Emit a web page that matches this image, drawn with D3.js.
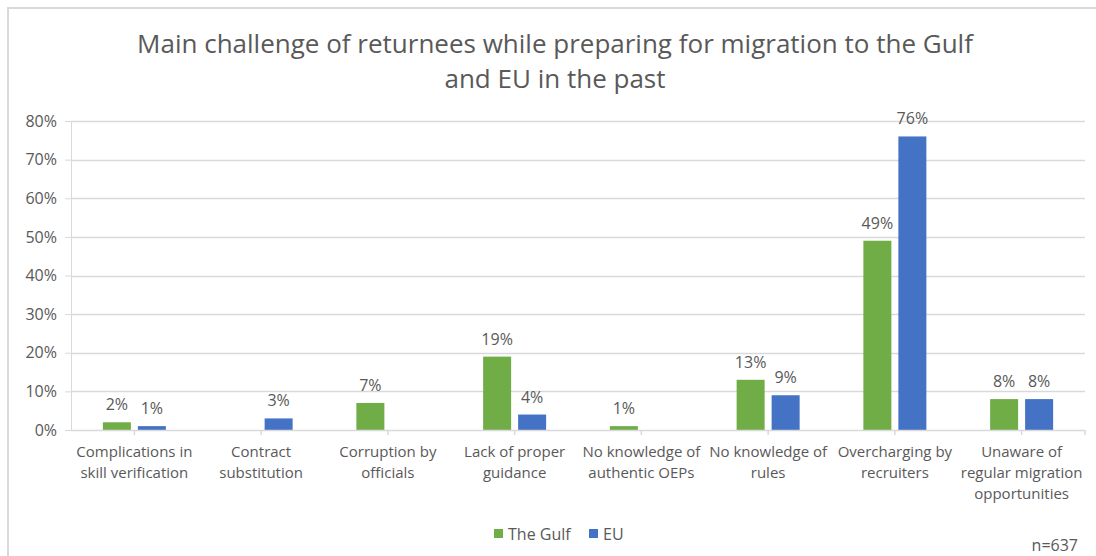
<!DOCTYPE html>
<html>
<head>
<meta charset="utf-8">
<script src="https://cdn.jsdelivr.net/npm/d3@7/dist/d3.min.js"></script>
<style>
  html, body { margin: 0; padding: 0; background: #fff; }
  svg { display: block; }
  text { font-family: "Open Sans", "Noto Sans", sans-serif; fill: #595959; }
</style>
</head>
<body>
<svg id="chart" width="1096" height="556"></svg>
<script>
// Survey categories (wrapped label lines) and shares per destination
const categories = [
  "Complications in skill verification",
  "Contract substitution",
  "Corruption by officials",
  "Lack of proper guidance",
  "No knowledge of authentic OEPs",
  "No knowledge of rules",
  "Overcharging by recruiters",
  "Unaware of regular migration opportunities"
];
const categoryLines = [
  ["Complications in", "skill verification"],
  ["Contract", "substitution"],
  ["Corruption by", "officials"],
  ["Lack of proper", "guidance"],
  ["No knowledge of", "authentic OEPs"],
  ["No knowledge of", "rules"],
  ["Overcharging by", "recruiters"],
  ["Unaware of", "regular migration", "opportunities"]
];
const gulfValues = [2, null, 7, 19, 1, 13, 49, 8];
const euValues   = [1, 3, null, 4, null, 9, 76, 8];
const seriesNames = ["The Gulf", "EU"];
const seriesColors = ["#70AD47", "#4472C4"];
const yTicks = [0, 10, 20, 30, 40, 50, 60, 70, 80];
const titleLines = [
  "Main challenge of returnees while preparing for migration to the Gulf",
  "and EU in the past"
];
const sampleNote = "n=637";

const svg = d3.select("#chart");
const W = 1096, H = 556;

// chart frame (left and top edges visible)
svg.append("line").attr("x1", 8).attr("x2", 8).attr("y1", 7).attr("y2", H)
  .attr("stroke", "#d9d9d9").attr("stroke-width", 2);
svg.append("line").attr("x1", 7).attr("x2", W).attr("y1", 8).attr("y2", 8)
  .attr("stroke", "#d9d9d9").attr("stroke-width", 2);

const plot = { left: 71, right: 1085, top: 121, bottom: 430 };

const x = d3.scaleBand().domain(categories).range([plot.left, plot.right]);
const y = d3.scaleLinear().domain([0, 80]).range([plot.bottom, plot.top]);

// title
svg.append("g").selectAll("text").data(titleLines).join("text")
  .attr("x", 555).attr("y", (d, i) => 53 + i * 35)
  .attr("text-anchor", "middle")
  .style("font-size", "26px")
  .text(d => d);

// gridlines + y axis
const yAxis = d3.axisLeft(y).tickValues(yTicks).tickFormat(d => d + "%")
  .tickSize(6).tickPadding(8);
const gy = svg.append("g").attr("transform", `translate(${plot.left},0)`).call(yAxis);
gy.select(".domain").attr("stroke", "#d9d9d9");
gy.selectAll(".tick line").attr("stroke", "#d9d9d9");
gy.selectAll(".tick text").style("font-size", "16px").attr("fill", "#595959");

svg.append("g").selectAll("line").data(yTicks.filter(d => d > 0)).join("line")
  .attr("x1", plot.left).attr("x2", plot.right)
  .attr("y1", d => Math.round(y(d)) + 0.5).attr("y2", d => Math.round(y(d)) + 0.5)
  .attr("stroke", "#d9d9d9").attr("stroke-width", 1.5);

// bars
const barW = 28, gap = 7;
const series = [gulfValues, euValues];
series.forEach((vals, si) => {
  const offset = si === 0 ? -(gap / 2 + barW) : gap / 2;
  const data = vals.map((v, i) => ({ cat: categories[i], v }))
    .filter(d => d.v !== null);
  const g = svg.append("g");
  g.selectAll("rect").data(data).join("rect")
    .attr("x", d => x(d.cat) + x.bandwidth() / 2 + offset)
    .attr("y", d => y(d.v))
    .attr("width", barW)
    .attr("height", d => y(0) - y(d.v))
    .attr("fill", seriesColors[si]);
  g.selectAll("text").data(data).join("text")
    .attr("x", d => x(d.cat) + x.bandwidth() / 2 + offset + barW / 2)
    .attr("y", d => y(d.v) - 12)
    .attr("text-anchor", "middle")
    .style("font-size", "16px")
    .attr("fill", "#404040")
    .text(d => d.v + "%");
});

// x axis with ticks at category centres and ends
const gx = svg.append("g");
gx.append("line").attr("x1", plot.left).attr("x2", plot.right)
  .attr("y1", plot.bottom + 0.5).attr("y2", plot.bottom + 0.5)
  .attr("stroke", "#d9d9d9").attr("stroke-width", 1.5);
const tickXs = categories.map(c => x(c) + x.bandwidth() / 2).concat([plot.right]);
gx.selectAll("line.tk").data(tickXs).join("line").attr("class", "tk")
  .attr("x1", d => d).attr("x2", d => d)
  .attr("y1", plot.bottom).attr("y2", plot.bottom + 5)
  .attr("stroke", "#d9d9d9").attr("stroke-width", 1.5);

const labels = gx.selectAll("text").data(categories).join("text")
  .attr("text-anchor", "middle")
  .style("font-size", "15px")
  .attr("fill", "#595959");
labels.each(function (c, i) {
  const t = d3.select(this);
  categoryLines[i].forEach((line, li) => {
    t.append("tspan")
      .attr("x", x(c) + x.bandwidth() / 2)
      .attr("y", 457 + li * 21)
      .text(line);
  });
});

// legend
const legend = svg.append("g");
const legendX = [494, 589];
seriesNames.forEach((name, i) => {
  legend.append("rect").attr("x", legendX[i]).attr("y", 529)
    .attr("width", 9).attr("height", 9).attr("fill", seriesColors[i]);
  legend.append("text").attr("x", legendX[i] + 14).attr("y", 540)
    .style("font-size", "16px").text(name);
});

svg.append("text").attr("x", 1078).attr("y", 551)
  .attr("text-anchor", "end").style("font-size", "16px")
  .attr("fill", "#000").text(sampleNote);
</script>
</body>
</html>
